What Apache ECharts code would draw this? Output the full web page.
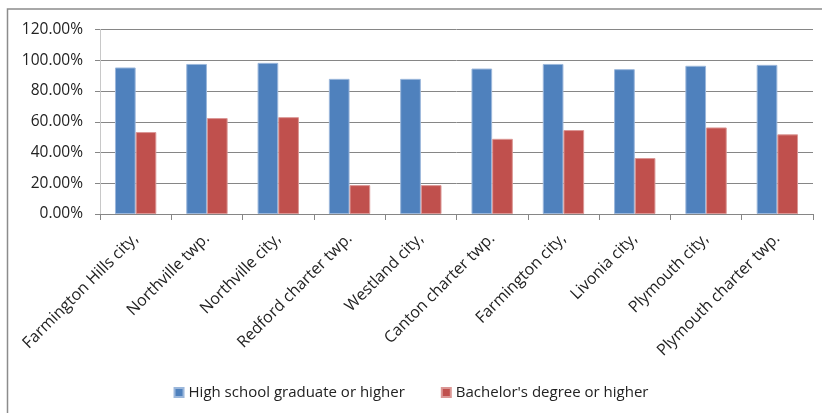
<!DOCTYPE html>
<html>
<head>
<meta charset="utf-8">
<script src="https://cdn.jsdelivr.net/npm/echarts@6/dist/echarts.min.js"></script>
<style>
html,body{margin:0;padding:0;background:#fff;}
#c{width:822px;height:413px;}
</style>
</head>
<body>
<div id="c"></div>
<script>
var categories = ["Farmington Hills city,", "Northville twp.", "Northville city,", "Redford charter twp.", "Westland city,", "Canton charter twp.", "Farmington city,", "Livonia city,", "Plymouth city,", "Plymouth charter twp."];
var highSchool = [95.3, 97.6, 98.3, 87.9, 87.9, 94.6, 97.6, 94.2, 96.4, 97.0];
var bachelors = [53.3, 62.4, 63.0, 18.8, 18.8, 48.9, 54.6, 36.4, 56.3, 51.8];
var seriesNames = ["High school graduate or higher", "Bachelor's degree or higher"];
var yTicks = {min: 0, max: 120, interval: 20};

var FONT = "Open Sans";
var chart = echarts.init(document.getElementById('c'), null, {renderer: 'canvas'});
chart.setOption({
  animation: false,
  backgroundColor: '#fff',
  graphic: [{
    type: 'rect', silent: true, z: 100,
    shape: {x: 7.5, y: 9, width: 830, height: 420},
    style: {fill: null, stroke: '#8c8c8c', lineWidth: 1.5}
  }],
  grid: {left: 100, right: 9, top: 29.5, bottom: 199, containLabel: false},
  legend: {
    data: seriesNames,
    bottom: 8, left: 'center',
    itemWidth: 9, itemHeight: 9, itemGap: 36,
    icon: 'rect',
    textStyle: {fontFamily: FONT, fontSize: 15, color: '#222'}
  },
  xAxis: {
    type: 'category',
    data: categories,
    axisLine: {lineStyle: {color: '#868686', width: 1}},
    axisTick: {show: true, length: 6, lineStyle: {color: '#868686'}},
    axisLabel: {rotate: 45, interval: 0, margin: 22, fontFamily: FONT, fontSize: 16, color: '#222'},
    splitLine: {show: false}
  },
  yAxis: {
    type: 'value',
    min: yTicks.min, max: yTicks.max, interval: yTicks.interval,
    axisLine: {show: true, lineStyle: {color: '#c8c8c8', width: 1}},
    axisTick: {show: true, length: 5, lineStyle: {color: '#868686'}},
    axisLabel: {margin: 17, fontFamily: FONT, fontSize: 15.5, color: '#222',
      formatter: function (v) { return v.toFixed(2) + '%'; }},
    splitLine: {show: true, lineStyle: {color: '#868686', width: 1}}
  },
  series: [
    {name: seriesNames[0], type: 'bar', data: highSchool, barGap: '0%', barCategoryGap: '42%',
     itemStyle: {color: '#4F81BD', borderColor: '#9BB7DB', borderWidth: 1}},
    {name: seriesNames[1], type: 'bar', data: bachelors, barGap: '0%', barCategoryGap: '42%',
     itemStyle: {color: '#C0504D', borderColor: '#DB9795', borderWidth: 1}}
  ]
});
</script>
</body>
</html>
